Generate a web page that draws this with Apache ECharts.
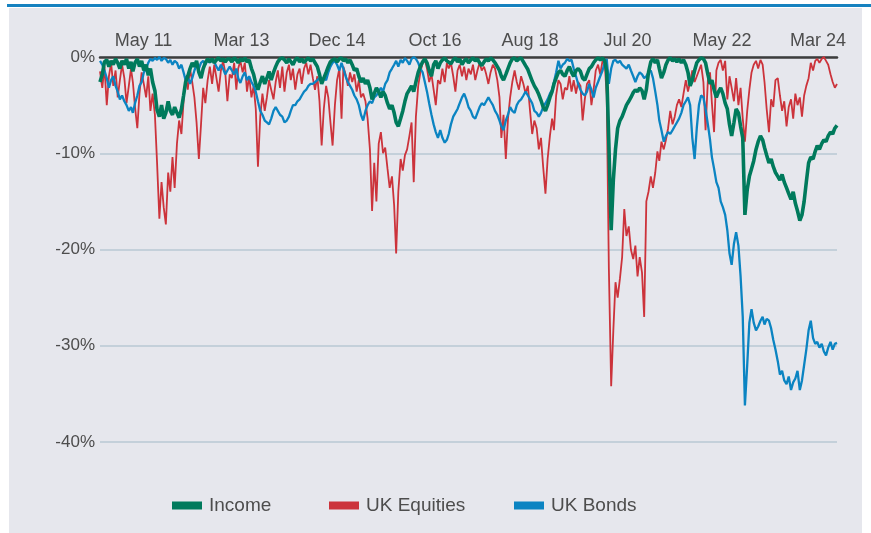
<!DOCTYPE html>
<html>
<head>
<meta charset="utf-8">
<script src="https://cdn.jsdelivr.net/npm/echarts@6/dist/echarts.min.js"></script>
<style>
  html, body { margin: 0; padding: 0; background: #ffffff; }
  #wrap { position: relative; width: 871px; height: 533px; overflow: hidden; }
  #panel { position: absolute; left: 9px; top: 8px; width: 853px; height: 525px; background: #e6e7ed; }
  #topline { position: absolute; left: 7px; top: 4px; width: 864px; height: 3px; background: #1682c0; }
  #main { position: absolute; left: 0; top: 0; width: 871px; height: 533px; }
</style>
</head>
<body>
<div id="wrap">
  <div id="panel"></div>
  <div id="topline"></div>
  <div id="main"></div>
</div>
<script>
// x axis: one point on the 1st and 16th of each month, 2010-07-16 .. 2024-07-16
var startDate = '2010-07-16';
var endDate = '2024-07-16';

var tickDates = ['2011-05-14', '2013-03-24', '2015-01-16', '2016-11-26', '2018-09-16', '2020-07-23', '2022-05-10', '2024-03-06'];
var tickLabels = ['May 11', 'Mar 13', 'Dec 14', 'Oct 16', 'Aug 18', 'Jul 20', 'May 22', 'Mar 24'];

var yTicks = [0, -10, -20, -30, -40];

// drawdown, % (rows: 2010 H2, 2011 ... 2023, 2024 H1)
var income = [
  -2.6,-1.8,-0.5,-0.3,-1.0,-0.4,-0.8,-0.2,-0.6,-1.2,-0.4,
  -0.8,-0.2,-1.2,-0.5,-1.5,-0.6,-0.2,-1.0,-0.4,-1.4,-0.8,-1.9,-1.2,-2.6,-3.5,-5.5,-6.2,-5.0,-6.4,-5.8,-4.6,-5.6,-6.0,-5.2,
  -5.8,-6.3,-5.4,-4.0,-2.6,-2.0,-1.2,-0.6,-1.0,-0.4,-1.6,-2.2,-1.2,-0.6,-0.2,-0.5,-0.2,-0.6,-0.3,-0.1,-0.4,-0.2,-0.5,-0.2,
  -0.2,-0.5,-0.1,-0.3,-0.6,-0.2,-0.4,-0.1,-0.5,-0.3,-1.2,-1.8,-2.8,-3.4,-2.6,-2.0,-2.8,-2.2,-1.5,-2.4,-1.6,-1.0,-0.5,-0.2,
  -0.1,-0.3,-0.6,-0.2,-0.4,-0.8,-0.3,-0.1,-0.5,-0.2,-0.6,-0.3,-0.1,-0.4,-0.2,-0.6,-1.0,-1.8,-2.8,-2.2,-1.6,-1.0,-0.5,-0.3,
  -0.2,-0.5,-0.2,-0.1,-0.4,-0.2,-0.6,-0.3,-0.8,-1.4,-1.2,-2.0,-2.6,-2.2,-2.8,-2.4,-3.2,-4.4,-3.8,-3.2,-3.6,-4.2,-3.6,-4.0,
  -4.8,-5.4,-5.0,-5.8,-6.8,-7.2,-6.4,-5.6,-4.6,-3.8,-3.4,-3.0,-3.6,-2.6,-1.6,-1.0,-0.5,-0.2,-0.6,-1.4,-2.0,-0.8,-0.4,-1.2,
  -0.6,-0.3,-0.1,-0.4,-0.2,-0.7,-0.3,-0.1,-0.5,-0.2,-0.8,-0.4,-0.2,-0.6,-0.3,-0.1,-0.4,-0.2,-0.6,-0.9,-0.5,-0.2,-0.4,-0.1,
  -0.3,-0.6,-1.0,-1.4,-2.0,-2.4,-1.8,-1.2,-0.6,-0.2,-0.1,-0.4,-0.2,-0.1,-0.5,-0.9,-1.3,-1.9,-2.5,-3.0,-3.4,-3.9,-4.5,-5.2,
  -5.6,-5.0,-4.2,-3.6,-2.8,-2.2,-1.6,-1.4,-1.8,-2.0,-1.4,-1.0,-1.6,-2.0,-1.4,-1.2,-1.5,-2.2,-2.4,-1.8,-1.2,-1.0,-0.6,-0.3,
  -0.1,-0.3,-0.1,-0.4,-1.5,-9.0,-18.0,-12.8,-9.6,-7.4,-6.6,-6.2,-5.6,-5.0,-4.6,-4.2,-3.7,-3.4,-3.6,-3.2,-3.5,-4.4,-3.4,-1.6,
  -0.5,-0.2,-0.6,-0.3,-1.2,-2.2,-1.6,-0.8,-0.3,-0.1,-0.4,-0.2,-0.5,-0.2,-0.6,-0.3,-0.8,-1.6,-3.0,-2.4,-1.4,-0.6,-0.3,-0.1,
  -0.2,-0.6,-1.8,-2.8,-2.4,-3.4,-4.2,-3.6,-3.2,-3.8,-4.8,-5.4,-7.0,-8.2,-6.8,-5.4,-5.8,-7.2,-8.4,-16.4,-13.8,-12.4,-11.6,-10.8,
  -9.6,-8.8,-8.2,-8.6,-9.4,-10.2,-11.0,-10.6,-11.4,-12.0,-12.4,-12.8,-12.2,-13.0,-13.6,-14.2,-14.8,-14.0,-15.2,-16.0,-17.0,-16.4,-15.0,-13.0,
  -11.0,-10.4,-10.6,-9.8,-9.2,-9.6,-9.0,-8.6,-8.8,-8.2,-7.8,-8.0,-7.4,-7.1
];

var ukEquities = [
  -1.5,-3.2,-1.0,-5.0,-2.0,-0.6,-3.0,-1.4,-4.2,-2.4,-0.8,
  -2.2,-4.8,-3.0,-1.2,-2.6,-5.2,-7.4,-3.8,-1.6,-2.8,-4.2,-2.0,-5.6,-3.8,-6.0,-11.0,-16.8,-13.0,-15.6,-17.4,-12.0,-14.0,-10.4,-13.6,
  -9.0,-6.6,-8.0,-4.6,-2.0,-3.4,-1.2,-2.6,-4.2,-6.8,-10.6,-7.0,-3.2,-4.8,-2.4,-1.0,-2.8,-0.8,-2.2,-3.6,-1.4,-0.4,-1.6,-4.6,
  -1.8,-2.2,-0.6,-3.4,-1.2,-0.4,-1.6,-0.6,-3.6,-2.0,-4.2,-3.0,-5.4,-11.4,-6.2,-3.8,-5.6,-4.2,-2.4,-3.4,-4.4,-2.6,-1.4,-3.2,
  -1.0,-3.6,-1.6,-0.8,-2.4,-1.2,-3.4,-1.8,-1.2,-2.8,-1.2,-0.6,-1.8,-0.8,-2.2,-3.4,-2.0,-4.6,-9.2,-5.4,-3.0,-4.2,-6.8,-9.2,
  -5.0,-2.4,-1.2,-6.4,-1.0,-1.8,-3.0,-1.6,-2.6,-1.8,-3.6,-2.4,-4.2,-3.8,-4.6,-6.4,-9.6,-16.0,-11.0,-15.0,-9.0,-7.8,-10.0,-9.4,
  -11.6,-13.6,-12.4,-15.4,-20.4,-14.0,-10.6,-11.8,-10.2,-9.6,-8.2,-6.8,-13.0,-6.2,-3.0,-1.6,-0.6,-0.3,-1.2,-2.6,-1.8,-3.4,-5.0,-2.4,
  -2.8,-1.2,-2.6,-0.6,-1.2,-0.6,-2.0,-3.6,-1.4,-0.8,-2.0,-1.0,-2.4,-1.2,-1.8,-0.8,-2.4,-1.4,-0.6,-1.4,-1.0,-1.8,-2.8,-1.6,
  -0.8,-1.2,-2.4,-4.2,-8.4,-6.0,-10.6,-6.4,-4.2,-2.6,-1.4,-2.6,-3.4,-2.0,-2.8,-3.8,-3.0,-5.6,-8.0,-6.6,-7.4,-9.6,-8.4,-11.4,
  -14.2,-10.6,-8.2,-6.4,-7.6,-4.0,-2.4,-2.8,-4.4,-3.2,-3.4,-2.0,-3.6,-2.4,-3.8,-2.6,-3.0,-6.6,-4.4,-2.8,-2.4,-5.0,-3.4,-1.4,
  -0.8,-1.8,-0.4,-0.6,-4.0,-22.0,-34.2,-28.4,-23.4,-25.0,-23.0,-20.8,-15.8,-18.6,-17.6,-20.0,-21.0,-19.6,-22.8,-20.8,-22.4,-27.0,-15.0,-14.0,
  -12.4,-13.6,-12.0,-9.8,-10.8,-8.8,-9.6,-8.6,-7.4,-5.6,-7.0,-6.2,-5.0,-4.4,-5.2,-3.8,-2.4,-3.6,-2.6,-1.4,-2.6,-2.0,-1.4,-0.8,
  -2.6,-7.6,-2.4,-1.6,-4.8,-7.8,-1.4,-0.6,-0.3,-1.4,-0.4,-4.4,-2.0,-3.2,-4.6,-2.2,-5.0,-3.2,-6.4,-8.8,-5.6,-3.4,-1.6,-0.8,
  -0.4,-1.2,-0.3,-0.8,-2.6,-5.4,-7.8,-4.4,-5.2,-2.4,-2.2,-4.0,-5.6,-4.6,-7.2,-5.2,-4.4,-6.4,-3.8,-5.0,-4.2,-6.2,-4.0,-3.0,
  -2.2,-0.6,-1.4,-0.4,-0.2,-0.6,-0.2,0,-0.4,-0.8,-1.8,-2.6,-3.2,-2.8
];

var ukBonds = [
  -0.4,-0.8,-1.4,-2.2,-3.2,-2.4,-2.0,-3.0,-3.6,-4.4,-4.0,
  -4.6,-5.0,-5.6,-5.2,-5.8,-4.8,-4.0,-3.0,-2.6,-1.6,-1.2,-0.6,-0.2,-0.4,-0.1,-0.3,0,-0.4,-0.1,-0.2,-0.6,-0.3,-0.8,-0.4,
  -0.6,-1.2,-0.8,-1.6,-2.4,-2.0,-2.8,-2.2,-1.4,-0.8,-1.2,-0.6,-0.4,-0.8,-0.3,-0.6,-0.2,-0.5,-1.0,-1.4,-0.8,-1.2,-1.8,-1.4,
  -1.0,-1.4,-1.8,-1.2,-2.2,-2.7,-2.0,-1.6,-2.4,-2.0,-2.6,-3.0,-3.6,-4.6,-5.6,-6.0,-6.6,-6.8,-7.0,-6.4,-5.6,-5.2,-5.6,-6.0,
  -6.2,-6.8,-6.6,-6.2,-5.6,-5.0,-5.0,-4.6,-4.4,-4.0,-3.6,-3.4,-3.0,-2.8,-2.8,-2.6,-2.4,-2.2,-2.6,-2.2,-2.4,-1.6,-1.0,-0.6,
  -0.4,-0.8,-1.4,-0.6,-1.2,-2.0,-2.6,-3.0,-3.4,-4.0,-4.4,-5.0,-6.0,-6.6,-5.6,-5.0,-4.6,-4.8,-4.2,-4.0,-3.6,-3.2,-3.6,-2.8,
  -2.4,-1.6,-1.2,-0.8,-0.4,-1.0,-0.3,-0.6,-0.1,-0.4,-0.8,-0.2,0,-0.2,-0.6,-1.2,-1.6,-2.6,-3.6,-4.8,-6.0,-7.0,-7.8,-8.4,
  -7.6,-8.4,-8.9,-8.6,-8.0,-7.0,-6.2,-5.8,-5.4,-4.8,-4.2,-3.8,-4.4,-5.2,-5.6,-6.2,-6.4,-5.8,-5.2,-4.8,-5.0,-4.6,-4.2,-4.6,
  -5.0,-5.6,-6.0,-6.6,-7.2,-7.6,-6.6,-6.0,-5.2,-5.6,-5.8,-5.0,-4.6,-4.4,-4.0,-3.6,-4.0,-4.4,-4.8,-5.6,-5.8,-6.2,-5.8,-5.2,
  -4.8,-4.4,-3.8,-3.4,-2.6,-1.6,-0.4,-1.2,-0.8,-0.6,-0.2,-0.4,-0.3,-1.2,-2.0,-2.8,-3.4,-3.8,-4.0,-3.6,-2.8,-3.4,-4.2,-3.2,
  -2.6,-2.0,-1.4,-0.6,-0.2,-2.8,-1.2,-0.4,-0.3,-0.6,-0.4,-0.8,-1.0,-1.2,-0.8,-1.4,-2.0,-2.6,-2.0,-1.6,-1.8,-2.2,-2.0,-1.6,
  -1.4,-2.2,-3.6,-5.0,-6.6,-7.6,-8.8,-8.2,-7.8,-8.0,-7.6,-7.2,-6.8,-6.4,-5.8,-5.0,-4.6,-4.2,-5.0,-8.4,-10.6,-7.4,-5.0,-4.0,
  -4.2,-5.4,-7.0,-8.6,-10.4,-11.6,-13.0,-13.6,-15.0,-15.6,-16.4,-18.0,-20.4,-21.6,-19.4,-18.2,-19.6,-22.8,-27.0,-36.2,-32.0,-27.6,-26.2,-27.6,
  -28.4,-28.0,-27.4,-27.0,-27.8,-27.2,-27.4,-28.2,-29.4,-30.4,-31.6,-33.0,-32.6,-33.6,-34.0,-33.2,-34.6,-33.8,-33.4,-32.6,-34.6,-33.6,-32.0,-30.4,
  -28.4,-27.4,-29.2,-29.8,-29.6,-30.2,-29.8,-30.6,-31.0,-30.2,-29.6,-30.4,-29.8,-29.7
];

// build the half-monthly date list
var dates = [];
(function () {
  var y = 2010, m = 7, d = 16;
  while (true) {
    var s = y + '-' + (m < 10 ? '0' + m : m) + '-' + (d < 10 ? '0' + d : d);
    dates.push(s);
    if (s === endDate) break;
    if (d === 1) { d = 16; } else { d = 1; m++; if (m > 12) { m = 1; y++; } }
  }
})();

function toTime(s) {
  return Date.UTC(+s.slice(0, 4), +s.slice(5, 7) - 1, +s.slice(8, 10));
}

function pairs(vals) {
  return dates.map(function (d, i) { return [toTime(d), vals[i]]; });
}

var tickTimes = tickDates.map(toTime);
var font = 'Liberation Sans, Arial, Helvetica, sans-serif';
var textColor = '#4d4d4d';

var myChart = echarts.init(document.getElementById('main'));
var option = {
  animation: false,
  backgroundColor: 'transparent',
  textStyle: { fontFamily: font },
  grid: { left: 100, right: 34, top: 57, bottom: 91, containLabel: false },
  legend: [
    { data: ['Income'], left: 172, top: 496, padding: 0 },
    { data: ['UK Equities'], left: 329, top: 496, padding: 0 },
    { data: ['UK Bonds'], left: 514, top: 496, padding: 0 }
  ].map(function (l) {
    l.icon = 'rect';
    l.itemWidth = 30;
    l.itemHeight = 8;
    l.selectedMode = false;
    l.textStyle = { fontSize: 19, color: textColor, fontFamily: font, padding: [0, 0, 0, 2] };
    return l;
  }),
  xAxis: {
    type: 'value',
    position: 'top',
    min: toTime(startDate),
    max: toTime(endDate),
    axisLine: { show: true, onZero: false, lineStyle: { color: '#3d3d3d', width: 2.5 } },
    axisTick: { show: false },
    splitLine: { show: false },
    axisLabel: {
      customValues: tickTimes,
      fontSize: 18,
      color: textColor,
      fontFamily: font,
      margin: 7,
      showMinLabel: true,
      showMaxLabel: true,
      hideOverlap: false,
      formatter: function (val) {
        var i = tickTimes.indexOf(+val);
        return i >= 0 ? tickLabels[i] : '';
      }
    }
  },
  yAxis: {
    type: 'value',
    min: yTicks[yTicks.length - 1],
    max: yTicks[0],
    interval: 10,
    axisLine: { show: false },
    axisTick: { show: false },
    splitLine: { lineStyle: { color: '#b9c9d3', width: 1.5 } },
    axisLabel: { formatter: '{value}%', fontSize: 17, color: textColor, fontFamily: font, margin: 5 }
  },
  series: [
    {
      name: 'UK Equities',
      type: 'line',
      showSymbol: false,
      z: 2,
      color: '#cc333b',
      lineStyle: { width: 1.8, color: '#cc333b' },
      data: pairs(ukEquities)
    },
    {
      name: 'UK Bonds',
      type: 'line',
      showSymbol: false,
      z: 3,
      color: '#0b84c2',
      lineStyle: { width: 2.3, color: '#0b84c2' },
      data: pairs(ukBonds)
    },
    {
      name: 'Income',
      type: 'line',
      showSymbol: false,
      z: 4,
      color: '#007a5c',
      lineStyle: { width: 3.6, color: '#007a5c' },
      data: pairs(income)
    }
  ]
};
myChart.setOption(option);
</script>
</body>
</html>
